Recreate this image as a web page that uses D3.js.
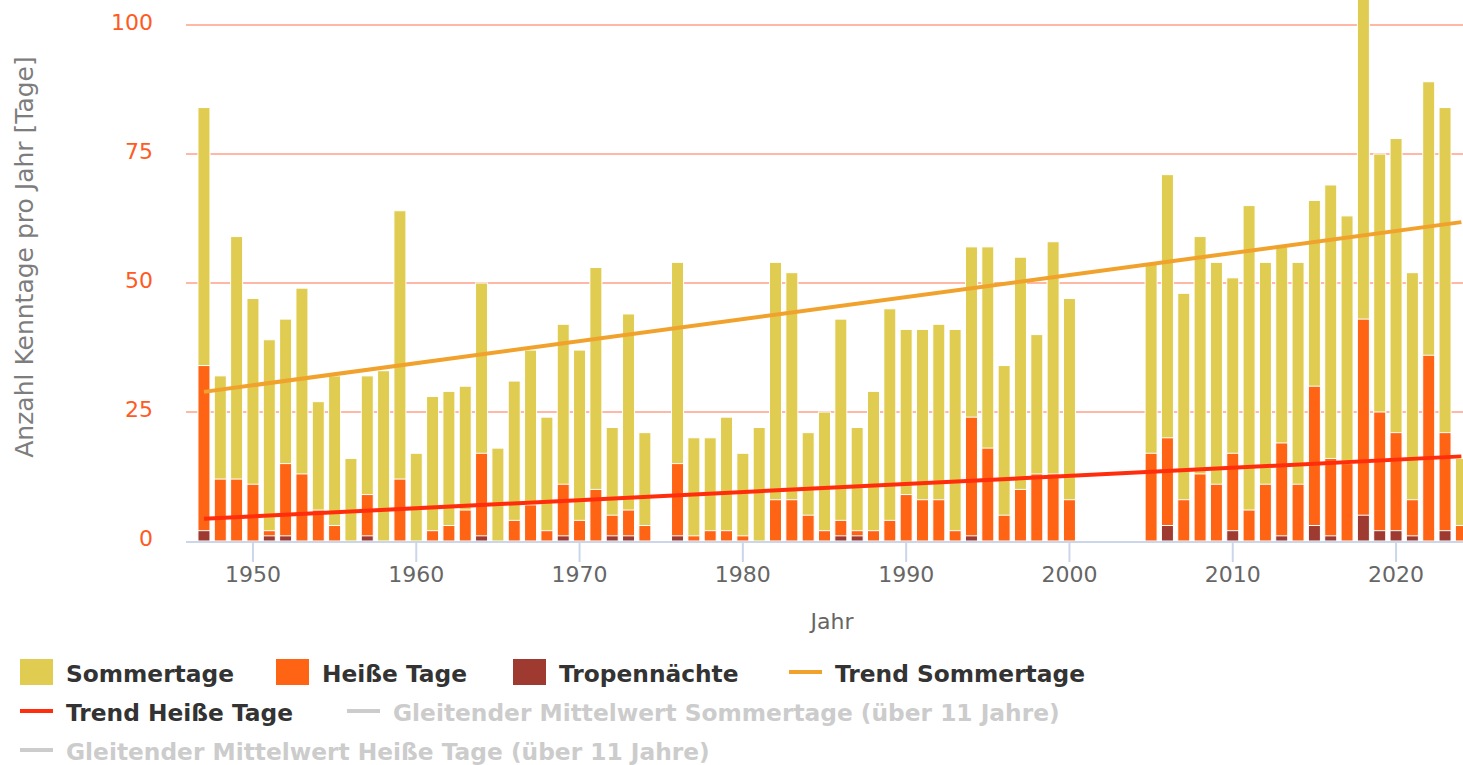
<!DOCTYPE html>
<html>
<head>
<meta charset="utf-8">
<script src="https://cdn.jsdelivr.net/npm/d3@7"></script>
<style>
  html, body { margin: 0; padding: 0; background: #fff; }
  svg { display: block; }
</style>
</head>
<body>
<svg id="chart" width="1463" height="765"></svg>
<script>
// ---------------- data ----------------
const years = [
  1947,1948,1949,1950,1951,1952,1953,1954,1955,1956,1957,1958,1959,1960,1961,1962,1963,1964,1965,1966,1967,1968,1969,1970,1971,1972,1973,1974,
  1976,1977,1978,1979,1980,1981,1982,1983,1984,1985,1986,1987,1988,1989,1990,1991,1992,1993,1994,1995,1996,1997,1998,1999,2000,
  2005,2006,2007,2008,2009,2010,2011,2012,2013,2014,2015,2016,2017,2018,2019,2020,2021,2022,2023,2024
];
const sommertage = [
  84,32,59,47,39,43,49,27,32,16,32,33,64,17,28,29,30,50,18,31,37,24,42,37,53,22,44,21,
  54,20,20,24,17,22,54,52,21,25,43,22,29,45,41,41,42,41,57,57,34,55,40,58,47,
  54,71,48,59,54,51,65,54,57,54,66,69,63,105,75,78,52,89,84,16
];
const heisseTage = [
  34,12,12,11,2,15,13,6,3,0,9,0,12,0,2,3,6,17,0,4,7,2,11,4,10,5,6,3,
  15,1,2,2,1,0,8,8,5,2,4,2,2,4,9,8,8,2,24,18,5,10,13,13,8,
  17,20,8,13,11,17,6,11,19,11,30,16,15,43,25,21,8,36,21,3
];
const tropennaechte = [
  2,0,0,0,1,1,0,0,0,0,1,0,0,0,0,0,0,1,0,0,0,0,1,0,0,1,1,0,
  1,0,0,0,0,0,0,0,0,0,1,1,0,0,0,0,0,0,1,0,0,0,0,0,0,
  0,3,0,0,0,2,0,0,1,0,3,1,0,5,2,2,1,0,2,0
];
const trendYears = [1947, 2024];
const trendSommertage = [28.9, 61.8];
const trendHeisseTage = [4.3, 16.4];
const yTicks = [0, 25, 50, 75, 100];
const xTicks = [1950, 1960, 1970, 1980, 1990, 2000, 2010, 2020];

const seriesNames = {
  s: "Sommertage", h: "Heiße Tage", t: "Tropennächte",
  ts: "Trend Sommertage", th: "Trend Heiße Tage",
  gs: "Gleitender Mittelwert Sommertage (über 11 Jahre)",
  gh: "Gleitender Mittelwert Heiße Tage (über 11 Jahre)"
};
const colors = {
  s: "#dfcc51", h: "#ff6415", t: "#9e3a2f",
  ts: "#f0a22c", th: "#ff2d0b", hidden: "#cccccc"
};

// ---------------- layout ----------------
const svg = d3.select("#chart");
const W = 1463;
const plot = { left: 186, right: 1463, top: 25, bottom: 541 };
const FONT = "'DejaVu Sans', Verdana, sans-serif";

const x = d3.scaleLinear().domain([1945.9, 2024.1]).range([plot.left, plot.right]);
const y = d3.scaleLinear().domain([0, 100]).range([plot.bottom, plot.top]);
const barW = 12;

svg.append("rect").attr("width", W).attr("height", 765).attr("fill", "#fff");

// gridlines
svg.append("g").selectAll("line").data(yTicks.filter(d => d > 0)).join("line")
  .attr("x1", plot.left).attr("x2", plot.right)
  .attr("y1", d => y(d)).attr("y2", d => y(d))
  .attr("stroke", "#ffb8a5").attr("stroke-width", 2);

// y tick labels
svg.append("g").selectAll("text").data(yTicks).join("text")
  .attr("x", 153).attr("y", d => y(d) + 5)
  .attr("text-anchor", "end")
  .attr("font-family", FONT).attr("font-size", 22)
  .attr("fill", "#ff5a1f")
  .text(d => d);

// y axis title
svg.append("text")
  .attr("transform", `translate(33,257) rotate(-90)`)
  .attr("text-anchor", "middle")
  .attr("font-family", FONT).attr("font-size", 25)
  .attr("fill", "#7d7d7d")
  .text("Anzahl Kenntage pro Jahr [Tage]");

// bars
const data = years.map((yr, i) => ({ yr, s: sommertage[i], h: heisseTage[i], t: tropennaechte[i] }));
function drawBars(key, color) {
  svg.append("g").selectAll("rect").data(data.filter(d => d[key] > 0)).join("rect")
    .attr("x", d => x(d.yr) - barW / 2)
    .attr("width", barW)
    .attr("y", d => y(d[key]))
    .attr("height", d => y(0) - y(d[key]))
    .attr("fill", color)
    .attr("stroke", "#ffffff").attr("stroke-width", 1);
}
drawBars("s", colors.s);
drawBars("h", colors.h);
drawBars("t", colors.t);

// x axis line & ticks
svg.append("line")
  .attr("x1", plot.left).attr("x2", plot.right)
  .attr("y1", plot.bottom + 1).attr("y2", plot.bottom + 1)
  .attr("stroke", "#ccd6eb").attr("stroke-width", 2);
svg.append("g").selectAll("line").data(xTicks).join("line")
  .attr("x1", d => x(d)).attr("x2", d => x(d))
  .attr("y1", plot.bottom + 1).attr("y2", plot.bottom + 21)
  .attr("stroke", "#ccd6eb").attr("stroke-width", 2);
svg.append("g").selectAll("text").data(xTicks).join("text")
  .attr("x", d => x(d)).attr("y", 582)
  .attr("text-anchor", "middle")
  .attr("font-family", FONT).attr("font-size", 22)
  .attr("fill", "#666666")
  .text(d => d);
svg.append("text")
  .attr("x", 832).attr("y", 629)
  .attr("text-anchor", "middle")
  .attr("font-family", FONT).attr("font-size", 22)
  .attr("fill", "#666666")
  .text("Jahr");

// trend lines
const line = d3.line().x(d => x(d[0])).y(d => y(d[1]));
svg.append("path")
  .datum(trendYears.map((yr, i) => [yr, trendSommertage[i]]))
  .attr("d", line).attr("fill", "none")
  .attr("stroke", colors.ts).attr("stroke-width", 4);
svg.append("path")
  .datum(trendYears.map((yr, i) => [yr, trendHeisseTage[i]]))
  .attr("d", line).attr("fill", "none")
  .attr("stroke", colors.th).attr("stroke-width", 4);

// legend
const legendItems = [
  {k: "s",  type: "box",  c: colors.s,      tc: "#333333", row: 0, lx: 20},
  {k: "h",  type: "box",  c: colors.h,      tc: "#333333", row: 0, lx: 276},
  {k: "t",  type: "box",  c: colors.t,      tc: "#333333", row: 0, lx: 513},
  {k: "ts", type: "line", c: colors.ts,     tc: "#333333", row: 0, lx: 789},
  {k: "th", type: "line", c: colors.th,     tc: "#333333", row: 1, lx: 20},
  {k: "gs", type: "line", c: colors.hidden, tc: "#cccccc", row: 1, lx: 347},
  {k: "gh", type: "line", c: colors.hidden, tc: "#cccccc", row: 2, lx: 20}
];
const rowY = [672, 711, 750];
const lg = svg.append("g");
legendItems.forEach(item => {
  const cx = item.lx, cy = rowY[item.row];
  if (item.type === "box") {
    lg.append("rect").attr("x", cx).attr("y", cy - 13).attr("width", 33).attr("height", 26)
      .attr("fill", item.c);
  } else {
    lg.append("line").attr("x1", cx).attr("x2", cx + 33).attr("y1", cy).attr("y2", cy)
      .attr("stroke", item.c).attr("stroke-width", 4);
  }
  lg.append("text")
    .attr("x", cx + 46).attr("y", cy + 10)
    .attr("font-family", FONT).attr("font-size", 23.3).attr("font-weight", "bold")
    .attr("fill", item.tc)
    .text(seriesNames[item.k]);
});
</script>
</body>
</html>
